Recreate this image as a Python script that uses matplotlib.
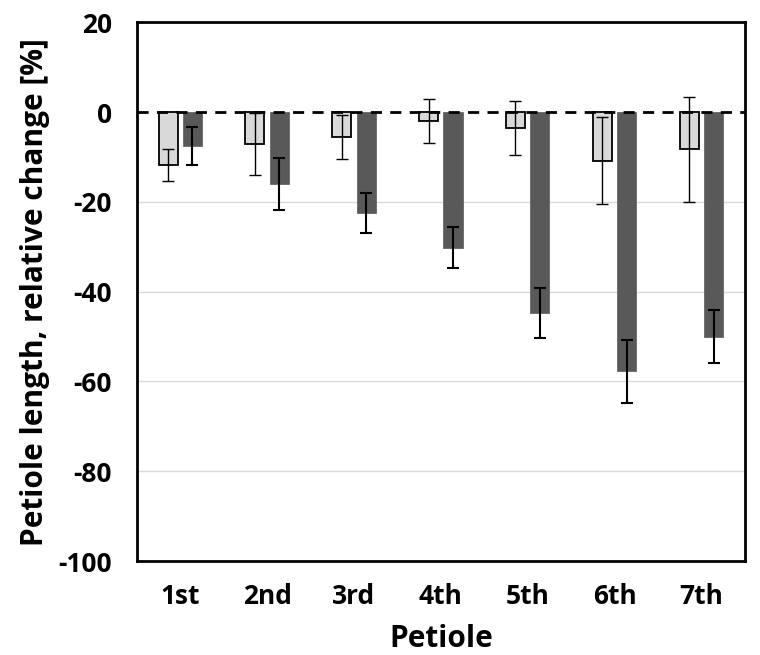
import numpy as np
import matplotlib.pyplot as plt

plt.rcParams['font.family'] = ['Open Sans', 'DejaVu Sans']
plt.rcParams['axes.unicode_minus'] = False

petioles = ['1st', '2nd', '3rd', '4th', '5th', '6th', '7th']
light_vals = [-11.8, -7.1, -5.5, -2.0, -3.5, -10.8, -8.3]
light_err = [3.6, 7.0, 4.9, 5.0, 6.0, 9.7, 11.7]
dark_vals = [-7.5, -16.1, -22.5, -30.2, -44.8, -57.7, -50.0]
dark_err = [4.2, 5.8, 4.4, 4.5, 5.6, 7.0, 6.0]

x = np.arange(len(petioles))
w = 0.22
off = 0.14

fig = plt.figure(figsize=(7.6, 6.55), dpi=100)
ax = fig.add_axes([0.180, 0.1435, 0.800, 0.8225])

for yv in [-20, -40, -60, -80]:
    ax.axhline(yv, color='#d9d9d9', lw=1, zorder=0)

ax.bar(x - off, light_vals, w, color='#d9d9d9', edgecolor='black', lw=1.3, zorder=2)
ax.errorbar(x - off, light_vals, yerr=light_err, fmt='none', ecolor='black',
            elinewidth=1, capsize=4, capthick=1, zorder=3)
ax.bar(x + off, dark_vals, w, color='#595959', edgecolor='#595959', lw=0.5, zorder=2)
ax.errorbar(x + off, dark_vals, yerr=dark_err, fmt='none', ecolor='black',
            elinewidth=1.5, capsize=4, capthick=1.5, zorder=3)

ax.axhline(0, color='black', lw=2, ls=(0, (4, 3)), zorder=4)

ax.set_xlim(-0.5, 6.5)
ax.set_ylim(-100, 20)
ax.set_yticks(np.arange(-100, 21, 20))
ax.set_xticks(x)
ax.set_xticklabels(petioles)
ax.tick_params(length=0, labelsize=19)
ax.tick_params(axis='y', pad=18)
ax.tick_params(axis='x', pad=16)
for lab in ax.get_xticklabels() + ax.get_yticklabels():
    lab.set_fontweight('bold')
for s in ax.spines.values():
    s.set_linewidth(2)

ax.set_xlabel('Petiole', fontsize=21.5, fontweight='bold', labelpad=10)
ax.set_ylabel('Petiole length, relative change [%]', fontsize=21.5, fontweight='bold', labelpad=6)

fig.savefig('out.png')
